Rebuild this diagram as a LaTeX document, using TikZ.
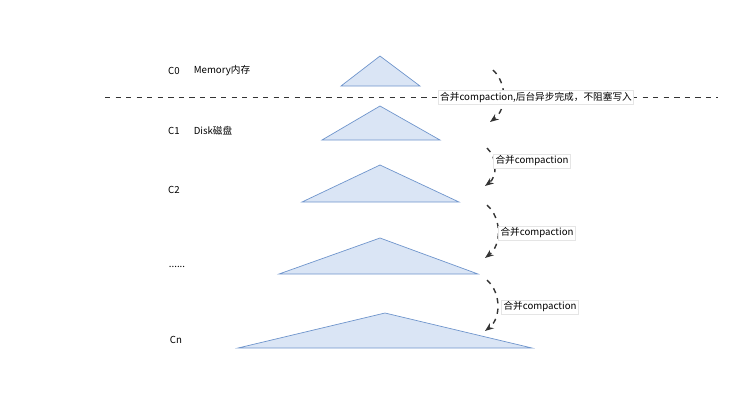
\documentclass[tikz,border=0pt]{standalone}
\usepackage{fontspec}
\setmainfont{Noto Sans CJK SC}
\usetikzlibrary{arrows.meta, positioning}
\definecolor{levelfill}{HTML}{DAE5F5}
\definecolor{leveldraw}{HTML}{6F95CC}

\begin{document}
\begin{tikzpicture}[x=0.02cm, y=-0.02cm, font=\fontsize{5.5}{6.5}\selectfont,
                    level/.style={fill=levelfill, draw=leveldraw, thin},
                    flow/.style={->, >={Stealth[length=5pt]}, dashed, thick, black!80},
                    tag/.style={fill=white, inner sep=1pt, draw=black!10}]
  \useasboundingbox (0,0) rectangle (754,400);

  % levels
  \draw[level] (380,56) -- (341,86) -- (420,86) -- cycle;
  \draw[level] (380,106) -- (322,140) -- (440,140) -- cycle;
  \draw[level] (380,165) -- (302,202) -- (459,202) -- cycle;
  \draw[level] (380,238) -- (279,274) -- (478,274) -- cycle;
  \draw[level] (385,313) -- (238,348) -- (532,348) -- cycle;

  % memory / disk boundary
  \draw[dashed, black!80] (105,97) -- (718,97);

  \node (c0)  at (174,71)  {C0};
  \node (mem) at (222,71)  {Memory内存};
  \node (c1)  at (174,131) {C1};
  \node (dsk) at (213,131) {Disk磁盘};
  \node (c2)  at (174,190) {C2};
  \node (dot) at (177,267) {......};
  \node (cn)  at (176,340) {Cn};

  \coordinate (s0) at (493,70);  \coordinate (e0) at (490,122);
  \coordinate (s1) at (487,148); \coordinate (e1) at (485,186);
  \coordinate (s2) at (487,205); \coordinate (e2) at (485,258);
  \coordinate (s3) at (487,280); \coordinate (e3) at (485,331);

  \draw[flow] (s0) to[bend left=50] (e0);
  \draw[flow] (s1) to[bend left=50] (e1);
  \draw[flow] (s2) to[bend left=50] (e2);
  \draw[flow] (s3) to[bend left=50] (e3);

  \node[tag] (m0) at (536,97)  {合并compaction,后台异步完成，不阻塞写入};
  \node[tag] (m1) at (532,161) {合并compaction};
  \node[tag] (m2) at (537,233) {合并compaction};
  \node[tag] (m3) at (540,307) {合并compaction};
\end{tikzpicture}
\end{document}
